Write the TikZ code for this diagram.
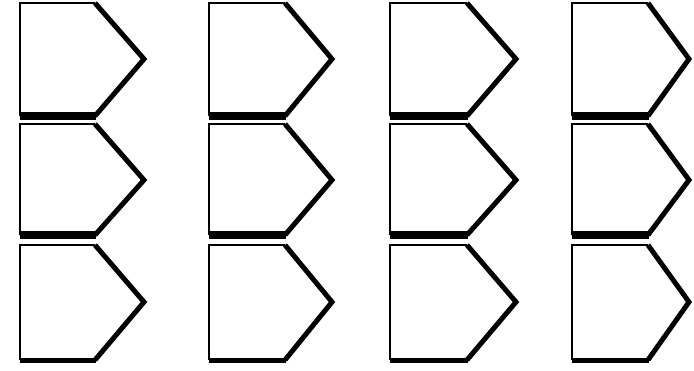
\documentclass[tikz,border=0pt]{standalone}
\begin{document}
\begin{tikzpicture}[x=1pt,y=-1pt,
  thinedge/.style={line width=1.6pt},
  thickedge/.style={line width=5pt, line join=miter}]
\useasboundingbox (0,0) rectangle (694,370);
\foreach \l/\r/\t in {20/95/144, 209/285/332, 390/467/516, 572/648/689} {
  \foreach \a/\b/\m/\w in {3/116/59/8, 124/235/180/8, 245/360/302/5} {
    \draw[thinedge] (\r,\a) -- (\l,\a) -- (\l,\b);
    \draw[thickedge] (\r,\a) -- (\t,\m) -- (\r,\b);
    \draw[line width=\w pt] (\r+1,\b) -- (\l,\b);
  }
}
\end{tikzpicture}
\end{document}
